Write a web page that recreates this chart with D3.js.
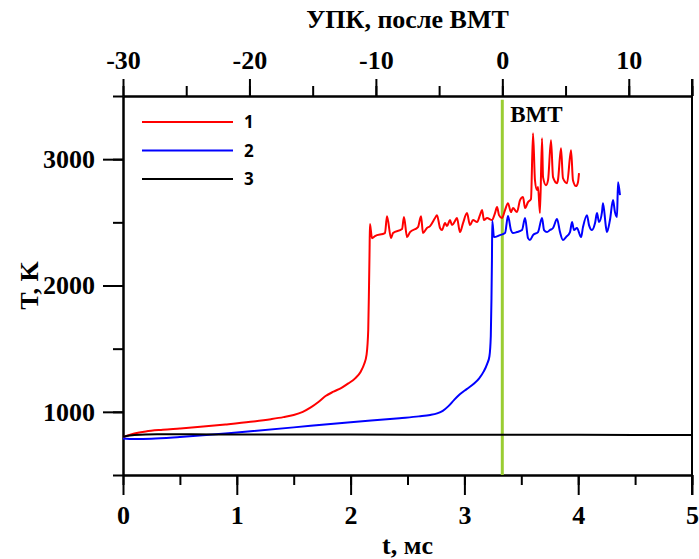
<!DOCTYPE html>
<html><head><meta charset="utf-8">
<script src="https://cdn.jsdelivr.net/npm/d3@7"></script>
<style>body{margin:0;background:#fff}svg{display:block}</style>
</head><body>
<script>
// ---- data ----
const xTicksBottom = [0,1,2,3,4,5];
const xTicksTop = [-30,-20,-10,0,10];
const yTicks = [1000,2000,3000];
const seriesNames = ["1","2","3"];
const seriesColors = ["#ff0000","#0000ff","#000000"];
const vmtT = 3.333;
const vmtLabel = "ВМТ";

const red = [[0,800],[0.05,815],[0.1,828],[0.2,845],[0.35,858],[0.5,868],[0.68,881],[0.9,900],[1.12,921],[1.3,942],[1.41,958],[1.50,975],[1.58,1000],[1.65,1035],[1.72,1080],[1.78,1125],[1.85,1160],[1.92,1190],[1.98,1225],[2.04,1265],[2.09,1320],[2.12,1380],[2.14,1450],[2.155,1650],[2.162,2000],[2.167,2300],[2.17,2486],
[2.188,2375],[2.214,2391],[2.302,2415],[2.320,2549],[2.355,2375],[2.373,2415],[2.452,2447],[2.469,2542],[2.496,2383],[2.522,2423],[2.592,2462],[2.619,2549],[2.636,2415],[2.671,2455],[2.698,2470],[2.742,2534],[2.759,2557],[2.786,2455],[2.803,2439],[2.830,2494],[2.847,2470],[2.873,2518],[2.891,2478],[2.917,2510],[2.935,2534],[2.961,2423],[2.988,2494],[3.023,2573],[3.049,2478],[3.076,2518],[3.111,2502],[3.137,2557],[3.155,2597],[3.172,2518],[3.199,2534],[3.243,2518],[3.269,2573],[3.287,2621],[3.304,2557],[3.330,2534],[3.357,2597],[3.383,2652],[3.409,2581],[3.427,2613],[3.462,2581],[3.489,2676],[3.515,2700],[3.533,2613],[3.559,2660],[3.585,2684],[3.603,3206],[3.620,2834],[3.638,2755],[3.647,2779],[3.664,2573],[3.682,3166],[3.691,2858],[3.717,2794],[3.735,2834],[3.761,3150],[3.779,2858],[3.814,2810],[3.822,2834],[3.849,3087],[3.866,2850],[3.902,2810],[3.937,3071],[3.954,2834],[3.981,2787],[3.998,2818],[4.007,2889]];

const blue = [[0,788],[0.1,784],[0.25,786],[0.5,800],[0.76,818],[1.0,837],[1.5,877],[2.0,917],[2.43,950],[2.60,964],[2.70,975],[2.76,988],[2.81,1008],[2.86,1045],[2.91,1095],[2.96,1140],[3.02,1180],[3.08,1220],[3.13,1265],[3.17,1320],[3.20,1380],[3.22,1440],[3.232,1600],[3.238,1900],[3.242,2200],[3.245,2510],
[3.260,2383],[3.313,2399],[3.357,2415],[3.383,2550],[3.409,2439],[3.427,2415],[3.462,2423],[3.506,2439],[3.533,2534],[3.559,2375],[3.576,2360],[3.603,2399],[3.647,2423],[3.682,2534],[3.700,2439],[3.726,2423],[3.752,2439],[3.779,2455],[3.814,2526],[3.840,2423],[3.866,2360],[3.893,2383],[3.928,2423],[3.946,2502],[3.963,2439],[3.989,2455],[4.025,2383],[4.042,2462],[4.077,2557],[4.095,2478],[4.121,2439],[4.148,2494],[4.165,2573],[4.183,2502],[4.209,2581],[4.218,2652],[4.244,2462],[4.253,2423],[4.279,2518],[4.306,2676],[4.323,2581],[4.341,2542],[4.350,2818],[4.367,2715]];

const black = [[0,802],[0.1,816],[0.3,822],[0.6,822],[1,821],[2,820],[3,819],[4,818],[5,817]];
const seriesData = [red, blue, black];

// ---- layout ----
const W = 699, H = 559;
const m = {left:123, right:699-692, top:96, bottom:559-475};
const svg = d3.select("body").append("svg").attr("width",W).attr("height",H);
const x = d3.scaleLinear().domain([0,5]).range([m.left, W-m.right]);
const xTop = d3.scaleLinear().domain([-30,15]).range([m.left, W-m.right]);
const y = d3.scaleLinear().domain([500,3500]).range([H-m.bottom, m.top]);

const serif = "'Liberation Serif','Times New Roman',serif";
const fs = 26;

function styleAxis(g){
  g.selectAll("path.domain").attr("stroke","#000").attr("stroke-width",2);
  g.selectAll(".tick line").attr("stroke","#000").attr("stroke-width",2);
  g.selectAll(".tick text").attr("font-family",serif).attr("font-weight","bold").attr("font-size",fs).attr("fill","#000");
}
const fmt = d => String(d);

// minor ticks
const gBm = svg.append("g").attr("transform",`translate(0,${H-m.bottom})`)
  .call(d3.axisBottom(x).tickValues(d3.range(0,5.01,0.5)).tickSize(10).tickFormat("").tickSizeOuter(0));
styleAxis(gBm);
const gB = svg.append("g").attr("transform",`translate(0,${H-m.bottom})`)
  .call(d3.axisBottom(x).tickValues(xTicksBottom).tickSize(20).tickPadding(11).tickFormat(fmt).tickSizeOuter(0));
styleAxis(gB);

const gTm = svg.append("g").attr("transform",`translate(0,${m.top})`)
  .call(d3.axisTop(xTop).tickValues(d3.range(-30,15.1,5)).tickSize(10).tickFormat("").tickSizeOuter(0));
styleAxis(gTm);
const gT = svg.append("g").attr("transform",`translate(0,${m.top})`)
  .call(d3.axisTop(xTop).tickValues(xTicksTop.concat([15])).tickSize(17).tickPadding(10).tickFormat(d=>d===15?"":fmt(d)).tickSizeOuter(0));
styleAxis(gT);

const gLm = svg.append("g").attr("transform",`translate(${m.left},0)`)
  .call(d3.axisLeft(y).tickValues(d3.range(500,3501,500)).tickSize(10).tickFormat("").tickSizeOuter(0));
styleAxis(gLm);
const gL = svg.append("g").attr("transform",`translate(${m.left},0)`)
  .call(d3.axisLeft(y).tickValues(yTicks).tickSize(20).tickPadding(8).tickFormat(fmt).tickSizeOuter(0));
styleAxis(gL);

// right border
svg.append("line").attr("x1",x(5)).attr("x2",x(5)).attr("y1",m.top-17).attr("y2",H-m.bottom+20)
  .attr("stroke","#000").attr("stroke-width",2);

// axis titles
svg.append("text").attr("x",x(2.5)).attr("y",H-5).attr("text-anchor","middle")
  .attr("font-family",serif).attr("font-weight","bold").attr("font-size",fs).text("t, мс");
svg.append("text").attr("x",xTop(-7.5)).attr("y",28).attr("text-anchor","middle")
  .attr("font-family",serif).attr("font-weight","bold").attr("font-size",fs).text("УПК, после ВМТ");
svg.append("text").attr("transform",`translate(38,${y(2000)}) rotate(-90)`).attr("text-anchor","middle")
  .attr("font-family",serif).attr("font-weight","bold").attr("font-size",fs).text("T, K");

// VMT line
svg.append("line").attr("x1",x(vmtT)).attr("x2",x(vmtT)).attr("y1",y(3470)).attr("y2",y(500))
  .attr("stroke","#9acd32").attr("stroke-width",3);
svg.append("text").attr("x",x(vmtT)+8).attr("y",y(3295)).attr("font-family",serif).attr("font-weight","bold")
  .attr("font-size",23).text(vmtLabel);

// lines
const line = d3.line().x(d=>x(d[0])).y(d=>y(d[1])).curve(d3.curveMonotoneX);
seriesData.forEach((s,i)=>{
  svg.append("path").datum(s).attr("d",line).attr("fill","none").attr("stroke",seriesColors[i]).attr("stroke-width",2)
    .attr("stroke-linejoin","round");
});

// legend
const lg = svg.append("g");
seriesNames.forEach((n,i)=>{
  const yy = 122 + i*28.5;
  lg.append("line").attr("x1",142).attr("x2",233).attr("y1",yy).attr("y2",yy).attr("stroke",seriesColors[i]).attr("stroke-width",2);
  lg.append("text").attr("x",244).attr("y",yy+6).attr("font-family","'Open Sans','Liberation Sans',sans-serif")
    .attr("font-weight","bold").attr("font-size",17).text(n);
});
</script>
</body></html>
